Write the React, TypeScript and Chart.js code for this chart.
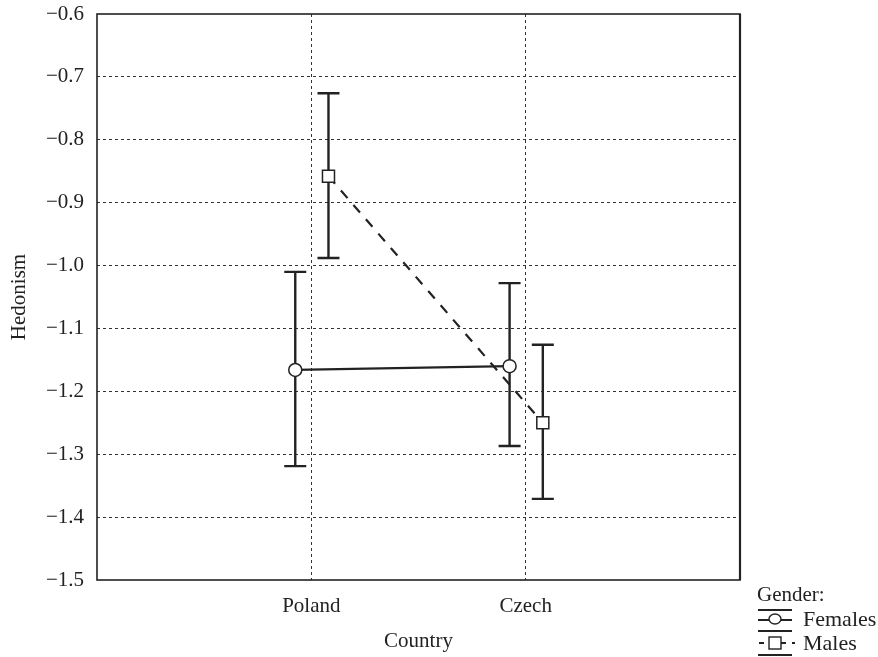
import React, { useEffect, useRef } from "react";
import { Chart, registerables } from "chart.js";

Chart.register(...registerables);

const categories = ["Poland", "Czech"];
const femalesMean = [-1.166, -1.16];
const femalesLow = [-1.319, -1.287];
const femalesHigh = [-1.01, -1.028];
const malesMean = [-0.858, -1.25];
const malesLow = [-0.988, -1.371];
const malesHigh = [-0.726, -1.126];
const yTicks = [-1.5, -1.4, -1.3, -1.2, -1.1, -1.0, -0.9, -0.8, -0.7, -0.6];

const FONT = "'Liberation Serif', 'DejaVu Serif', serif";
const INK = "#222";
const femaleOffset = -0.075;
const maleOffset = 0.08;

const fmt = (v: number) => {
  const s = Math.abs(v).toFixed(1);
  return v < 0 ? "\u2212" + s : s;
};

const errorBarsPlugin = {
  id: "errorBars",
  beforeDatasetsDraw(chart: any) {
    const { ctx, scales } = chart;
    const xs = scales.x;
    const ys = scales.y;
    const groups = [
      { off: femaleOffset, low: femalesLow, high: femalesHigh },
      { off: maleOffset, low: malesLow, high: malesHigh },
    ];
    ctx.save();
    ctx.strokeStyle = INK;
    ctx.lineWidth = 2.4;
    ctx.setLineDash([]);
    groups.forEach((g) => {
      categories.forEach((_, i) => {
        const x = xs.getPixelForValue(i + 1 + g.off);
        const yl = ys.getPixelForValue(g.low[i]);
        const yh = ys.getPixelForValue(g.high[i]);
        ctx.beginPath();
        ctx.moveTo(x, yl);
        ctx.lineTo(x, yh);
        ctx.moveTo(x - 11, yl);
        ctx.lineTo(x + 11, yl);
        ctx.moveTo(x - 11, yh);
        ctx.lineTo(x + 11, yh);
        ctx.stroke();
      });
    });
    ctx.restore();
  },
  afterDraw(chart: any) {
    const { ctx, chartArea } = chart;
    ctx.save();
    ctx.strokeStyle = INK;
    ctx.lineWidth = 1.6;
    ctx.setLineDash([]);
    ctx.strokeRect(chartArea.left, chartArea.top, chartArea.right - chartArea.left, chartArea.bottom - chartArea.top);
    ctx.lineWidth = 2.2;
    ctx.beginPath();
    ctx.moveTo(chartArea.right, chartArea.top);
    ctx.lineTo(chartArea.right, chartArea.bottom);
    ctx.stroke();

    // legend
    const lx = 757;
    ctx.fillStyle = INK;
    ctx.font = "21px " + FONT;
    ctx.textBaseline = "middle";
    ctx.textAlign = "left";
    ctx.fillText("Gender:", lx, 595);
    ctx.font = "22px " + FONT;
    ctx.fillText("Females", 803, 620);
    ctx.fillText("Males", 803, 644);

    ctx.lineWidth = 2;
    ctx.beginPath();
    ctx.moveTo(lx + 1, 610);
    ctx.lineTo(lx + 35, 610);
    ctx.moveTo(lx + 1, 620);
    ctx.lineTo(lx + 35, 620);
    ctx.moveTo(lx + 1, 631);
    ctx.lineTo(lx + 35, 631);
    ctx.moveTo(lx + 1, 655);
    ctx.lineTo(lx + 35, 655);
    ctx.stroke();
    ctx.beginPath();
    ctx.ellipse(lx + 18, 619, 6, 5, 0, 0, Math.PI * 2);
    ctx.fillStyle = "#fff";
    ctx.fill();
    ctx.lineWidth = 1.4;
    ctx.stroke();
    ctx.lineWidth = 2;
    ctx.setLineDash([5, 6]);
    ctx.beginPath();
    ctx.moveTo(lx + 2, 643);
    ctx.lineTo(lx + 38, 643);
    ctx.stroke();
    ctx.setLineDash([]);
    ctx.fillStyle = "#fff";
    ctx.fillRect(lx + 12, 637, 12, 12);
    ctx.lineWidth = 1.4;
    ctx.strokeRect(lx + 12, 637, 12, 12);
    ctx.restore();
  },
};

export default function App() {
  const ref = useRef<HTMLCanvasElement | null>(null);

  useEffect(() => {
    if (!ref.current) return;
    const chart = new Chart(ref.current, {
      type: "scatter",
      data: {
        datasets: [
          {
            label: "Females",
            data: femalesMean.map((v, i) => ({ x: i + 1 + femaleOffset, y: v })),
            showLine: true,
            borderColor: INK,
            borderWidth: 2.2,
            pointStyle: "circle",
            pointRadius: 6.5,
            pointBorderWidth: 1.5,
            pointBackgroundColor: "#fff",
            pointBorderColor: INK,
          },
          {
            label: "Males",
            data: malesMean.map((v, i) => ({ x: i + 1 + maleOffset, y: v })),
            showLine: true,
            borderColor: INK,
            borderWidth: 2.2,
            borderDash: [10, 9],
            pointStyle: "rect",
            pointRadius: 8.5,
            pointBorderWidth: 1.5,
            pointBackgroundColor: "#fff",
            pointBorderColor: INK,
          },
        ],
      },
      options: {
        animation: false,
        responsive: true,
        maintainAspectRatio: false,
        layout: { padding: { left: 0, top: 14, right: 138, bottom: 0 } },
        plugins: { legend: { display: false }, tooltip: { enabled: false } },
        scales: {
          x: {
            type: "linear",
            min: 0,
            max: 3,
            afterBuildTicks: (scale: any) => {
              scale.ticks = categories.map((_, i) => ({ value: i + 1 }));
            },
            afterFit: (scale: any) => {
              scale.height = 77;
              scale.paddingLeft = 0;
              scale.paddingRight = 0;
            },
            ticks: {
              color: INK,
              font: { family: FONT, size: 21 },
              padding: 14,
              callback: (v: any) => categories[Math.round(Number(v)) - 1] ?? "",
            },
            grid: { color: "#333", lineWidth: 1, drawTicks: false },
            border: { display: false, dash: [3, 3] },
            title: {
              display: true,
              text: "Country",
              color: INK,
              font: { family: FONT, size: 21 },
              padding: { top: 0, bottom: 3 },
            },
          },
          y: {
            type: "linear",
            min: -1.5,
            max: -0.6,
            afterBuildTicks: (scale: any) => {
              scale.ticks = yTicks.map((v) => ({ value: v }));
            },
            afterFit: (scale: any) => {
              scale.width = 97;
              scale.paddingTop = 0;
              scale.paddingBottom = 0;
            },
            ticks: {
              color: INK,
              font: { family: FONT, size: 21 },
              padding: 13,
              callback: (v: any) => fmt(Number(v)),
            },
            grid: {
              color: (c: any) =>
                c.tick && (Math.abs(c.tick.value + 1.5) < 1e-6 || Math.abs(c.tick.value + 0.6) < 1e-6)
                  ? "rgba(0,0,0,0)"
                  : "#333",
              lineWidth: 1,
              drawTicks: false,
            },
            border: { display: false, dash: [3, 3] },
            title: {
              display: true,
              text: "Hedonism",
              color: INK,
              font: { family: FONT, size: 21 },
              padding: { top: 7, bottom: 0 },
            },
          },
        },
      },
      plugins: [errorBarsPlugin],
    });
    return () => chart.destroy();
  }, []);

  return (
    <div style={{ position: "fixed", left: 0, top: 0, width: 878, height: 657, background: "#fff" }}>
      <canvas ref={ref} />
    </div>
  );
}
